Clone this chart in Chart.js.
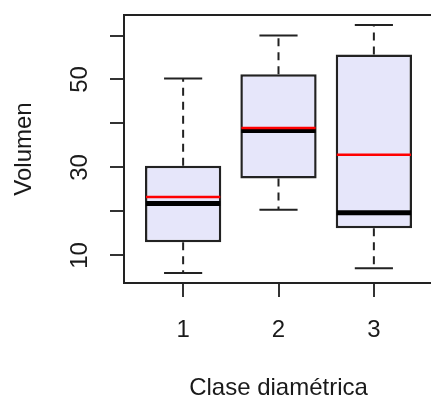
<!DOCTYPE html>
<html>
<head>
<meta charset="utf-8">
<script src="https://cdn.jsdelivr.net/npm/chart.js@4/dist/chart.umd.min.js"></script>
<style>
  html, body { margin: 0; padding: 0; background: #fff; overflow: hidden; }
  #wrap { width: 440px; height: 396px; }
</style>
</head>
<body>
<div id="wrap"><canvas id="myChart"></canvas></div>
<script>
// boxplot values
const categories = ["1", "2", "3"];
const whiskerLow = [6.0, 20.4, 7.1];
const q1 = [13.0, 27.5, 16.2];
const median = [21.8, 38.4, 19.7];
const q3 = [30.4, 51.2, 55.7];
const whiskerHigh = [50.2, 60.0, 62.4];
const means = [23.3, 39.0, 32.9];

const yTicks = [10, 20, 30, 40, 50, 60];
const yTickLabels = [10, 30, 50];

const font = { family: "'Liberation Sans', Arial, sans-serif", size: 24 };

// whiskers, medians and means drawn on top of the boxes
const boxExtras = {
  id: "boxExtras",
  afterDatasetsDraw(chart) {
    const ctx = chart.ctx;
    const xs = chart.scales.x;
    const ys = chart.scales.y;
    const half = 0.4;
    const cap = 0.2;
    ctx.save();
    for (let i = 0; i < categories.length; i++) {
      const cx = xs.getPixelForValue(i + 1);
      const w = xs.getPixelForValue(i + 1 + half) - cx;
      const c = xs.getPixelForValue(i + 1 + cap) - cx;
      // dashed whiskers
      ctx.strokeStyle = "#222";
      ctx.lineWidth = 2;
      ctx.setLineDash([8, 6]);
      ctx.beginPath();
      ctx.moveTo(cx, ys.getPixelForValue(q3[i]));
      ctx.lineTo(cx, ys.getPixelForValue(whiskerHigh[i]));
      ctx.moveTo(cx, ys.getPixelForValue(q1[i]));
      ctx.lineTo(cx, ys.getPixelForValue(whiskerLow[i]));
      ctx.stroke();
      ctx.setLineDash([]);
      // staples
      ctx.beginPath();
      ctx.moveTo(cx - c, ys.getPixelForValue(whiskerHigh[i]));
      ctx.lineTo(cx + c, ys.getPixelForValue(whiskerHigh[i]));
      ctx.moveTo(cx - c, ys.getPixelForValue(whiskerLow[i]));
      ctx.lineTo(cx + c, ys.getPixelForValue(whiskerLow[i]));
      ctx.stroke();
      // median
      ctx.lineWidth = 5;
      ctx.strokeStyle = "#000";
      ctx.beginPath();
      ctx.moveTo(cx - w + 1, ys.getPixelForValue(median[i]));
      ctx.lineTo(cx + w - 1, ys.getPixelForValue(median[i]));
      ctx.stroke();
      // mean
      ctx.lineWidth = 2.5;
      ctx.strokeStyle = "#ff0000";
      ctx.beginPath();
      ctx.moveTo(cx - w + 1, ys.getPixelForValue(means[i]));
      ctx.lineTo(cx + w - 1, ys.getPixelForValue(means[i]));
      ctx.stroke();
    }
    // frame
    const a = chart.chartArea;
    ctx.strokeStyle = "#222";
    ctx.lineWidth = 2;
    ctx.strokeRect(a.left, a.top, a.right - a.left, a.bottom - a.top);
    ctx.restore();
  }
};

new Chart(document.getElementById("myChart"), {
  type: "bar",
  data: {
    datasets: [
      {
        label: "Volumen",
        data: categories.map((c, i) => ({ x: i + 1, y: [q1[i], q3[i]] })),
        backgroundColor: "#E6E6FA",
        borderColor: "#222",
        borderWidth: 2.5,
        borderSkipped: false,
        categoryPercentage: 1,
        barPercentage: 0.8,
      },
    ],
  },
  options: {
    responsive: true,
    maintainAspectRatio: false,
    animation: false,
    layout: { padding: { top: 15, right: 7, left: 0, bottom: 0 } },
    plugins: { legend: { display: false }, tooltip: { enabled: false } },
    scales: {
      x: {
        type: "linear",
        offset: false,
        min: 0.38,
        max: 3.62,
        afterBuildTicks: (s) => { s.ticks = categories.map((c, i) => ({ value: i + 1 })); },
        afterFit: (s) => { s.height = 113; s.paddingLeft = 0; s.paddingRight = 0; },
        border: { display: false },
        grid: { offset: false, drawOnChartArea: false, drawTicks: true, tickLength: 14, color: "#333", lineWidth: 2 },
        ticks: {
          font: font,
          color: "#1a1a1a",
          padding: 19,
          maxRotation: 0,
          autoSkip: false,
          callback: (v) => categories[v - 1],
        },
        title: {
          display: true,
          text: "Clase diamétrica",
          font: { family: font.family, size: 24, lineHeight: "16px" },
          color: "#1a1a1a",
          padding: 0,
        },
      },
      y: {
        min: 3.74,
        max: 64.66,
        afterBuildTicks: (s) => { s.ticks = yTicks.map((v) => ({ value: v })); },
        afterFit: (s) => { s.width = 124; s.paddingTop = 0; s.paddingBottom = 0; },
        border: { display: false },
        grid: { drawOnChartArea: false, drawTicks: true, tickLength: 14, color: "#333", lineWidth: 2 },
        ticks: {
          font: font,
          color: "#1a1a1a",
          padding: 16.6,
          minRotation: 90,
          maxRotation: 90,
          crossAlign: "center",
          autoSkip: false,
          callback: (v) => (yTickLabels.includes(v) ? String(v) : ""),
        },
        title: {
          display: true,
          text: "Volumen",
          font: font,
          color: "#1a1a1a",
          padding: { top: 10, bottom: 0 },
        },
      },
    },
  },
  plugins: [boxExtras],
});
</script>
</body>
</html>
